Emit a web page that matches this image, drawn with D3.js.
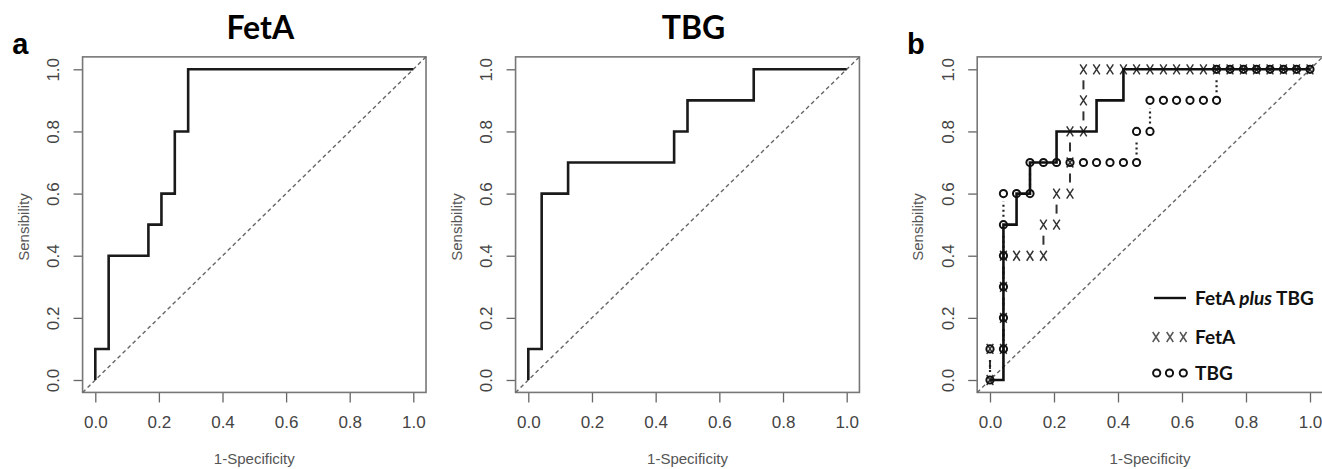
<!DOCTYPE html>
<html lang="en">
<head>
<meta charset="UTF-8">
<title>ROC curves</title>
<script src="https://cdn.jsdelivr.net/npm/d3@7"></script>
<style>
    body { margin: 0; background: #fff; }
    svg { display: block; }
    .tick-label { font-family: "Liberation Sans", Arial, sans-serif; font-size: 17px; fill: #444; }
    .axis-title { font-family: "Liberation Sans", Arial, sans-serif; font-size: 15px; fill: #555; }
    .panel-title { font-family: Lato, "Open Sans", sans-serif; font-weight: bold; font-size: 32px; fill: #000; }
    .panel-letter { font-family: "Liberation Sans", Arial, sans-serif; font-weight: bold; font-size: 29px; fill: #000; }
    .legend-text { font-family: Lato, "Open Sans", sans-serif; font-weight: bold; font-size: 19px; fill: #111; }
</style>
</head>
<body>
<script>
// ticks
const tickValues = [0, 0.2, 0.4, 0.6, 0.8, 1.0];
const tickLabels = ["0.0", "0.2", "0.4", "0.6", "0.8", "1.0"];

// panel a - FetA step curve corners
const fetaFpr = [0, 0, 0.042, 0.042, 0.167, 0.167, 0.208, 0.208, 0.25, 0.25, 0.292, 0.292, 1];
const fetaTpr = [0, 0.1, 0.1, 0.4, 0.4, 0.5, 0.5, 0.6, 0.6, 0.8, 0.8, 1.0, 1];

// panel a - TBG step curve corners
const tbgFpr = [0, 0, 0.042, 0.042, 0.125, 0.125, 0.458, 0.458, 0.5, 0.5, 0.708, 0.708, 1];
const tbgTpr = [0, 0.1, 0.1, 0.6, 0.6, 0.7, 0.7, 0.8, 0.8, 0.9, 0.9, 1.0, 1];

// panel b - combined model (solid)
const comboFpr = [0, 0.042, 0.042, 0.083, 0.083, 0.125, 0.125, 0.208, 0.208, 0.333, 0.333, 0.417, 0.417, 1];
const comboTpr = [0, 0, 0.5, 0.5, 0.6, 0.6, 0.7, 0.7, 0.8, 0.8, 0.9, 0.9, 1.0, 1];

// panel b - FetA threshold points (crosses)
const fetaPtFpr = [0, 0, 0.042, 0.042, 0.042, 0.042, 0.083, 0.125, 0.167, 0.167, 0.208, 0.208, 0.25, 0.25, 0.25, 0.292, 0.292, 0.292,
    0.333, 0.375, 0.417, 0.458, 0.5, 0.542, 0.583, 0.625, 0.667, 0.708, 0.75, 0.792, 0.833, 0.875, 0.917, 0.958, 1];
const fetaPtTpr = [0, 0.1, 0.1, 0.2, 0.3, 0.4, 0.4, 0.4, 0.4, 0.5, 0.5, 0.6, 0.6, 0.7, 0.8, 0.8, 0.9, 1.0,
    1, 1, 1, 1, 1, 1, 1, 1, 1, 1, 1, 1, 1, 1, 1, 1, 1];

// panel b - TBG threshold points (circles)
const tbgPtFpr = [0, 0, 0.042, 0.042, 0.042, 0.042, 0.042, 0.042, 0.083, 0.125, 0.125, 0.167, 0.208, 0.25, 0.292, 0.333, 0.375, 0.417,
    0.458, 0.458, 0.5, 0.5, 0.542, 0.583, 0.625, 0.667, 0.708, 0.708, 0.75, 0.792, 0.833, 0.875, 0.917, 0.958, 1];
const tbgPtTpr = [0, 0.1, 0.1, 0.2, 0.3, 0.4, 0.5, 0.6, 0.6, 0.6, 0.7, 0.7, 0.7, 0.7, 0.7, 0.7, 0.7, 0.7,
    0.7, 0.8, 0.8, 0.9, 0.9, 0.9, 0.9, 0.9, 0.9, 1.0, 1, 1, 1, 1, 1, 1, 1];

const legendLabels = ["FetA plus TBG", "FetA", "TBG"];

const W = 1322, H = 469;
const svg = d3.select("body").append("svg").attr("width", W).attr("height", H);

const zip = (xs, ys) => xs.map((x, i) => [x, ys[i]]);

function makePanel(px0, px1, title, letter) {
    const x = d3.scaleLinear().domain([0, 1]).range([px0, px1]);
    const y = d3.scaleLinear().domain([0, 1]).range([380, 69.3]);
    const g = svg.append("g");
    const left = x(-0.04), right = x(1.04), top = y(1.04), bottom = y(-0.04);

    // x axis ticks
    const xa = g.append("g").attr("transform", `translate(0,${bottom})`)
        .call(d3.axisBottom(x).tickValues(tickValues).tickSize(10).tickFormat((d, i) => tickLabels[i]));
    xa.select(".domain").remove();
    xa.selectAll("line").attr("stroke", "#666").attr("stroke-width", 1.3);
    xa.selectAll("text").attr("class", "tick-label").attr("dy", null).attr("y", 36).attr("font-size", null).attr("font-family", null).attr("fill", null);

    const ya = g.append("g").attr("transform", `translate(${left},0)`)
        .call(d3.axisLeft(y).tickValues(tickValues).tickSize(9).tickFormat((d, i) => tickLabels[i]));
    ya.select(".domain").remove();
    ya.selectAll("line").attr("stroke", "#666").attr("stroke-width", 1.3);
    ya.selectAll("text").attr("class", "tick-label").attr("x", null).attr("dy", null)
        .attr("font-size", null).attr("font-family", null).attr("fill", null)
        .attr("text-anchor", "middle")
        .attr("transform", `translate(${-(left - (px0 - 42))},0) rotate(-90)`)
        .attr("dy", "0.35em");

    // frame
    g.append("rect").attr("x", left).attr("y", top).attr("width", right - left).attr("height", bottom - top)
        .attr("fill", "none").attr("stroke", "#777").attr("stroke-width", 1.6);

    // diagonal reference
    g.append("line").attr("x1", x(-0.04)).attr("y1", y(-0.04)).attr("x2", x(1.04)).attr("y2", y(1.04))
        .attr("stroke", "#666").attr("stroke-width", 1.4).attr("stroke-dasharray", "4,3");

    g.append("text").attr("class", "axis-title").attr("text-anchor", "middle")
        .attr("x", (x(0) + x(1)) / 2).attr("y", 464).text("1-Specificity");
    g.append("text").attr("class", "axis-title").attr("text-anchor", "middle")
        .attr("transform", `translate(${px0 - 72},227) rotate(-90)`).attr("dy", "0.35em").text("Sensibility");

    if (title) g.append("text").attr("class", "panel-title").attr("text-anchor", "middle")
        .attr("x", (x(0) + x(1)) / 2 + 6).attr("y", 39).text(title);
    if (letter) g.append("text").attr("class", "panel-letter").attr("x", px0 - 83).attr("y", 54).text(letter);

    return { g, x, y };
}

const line = (x, y) => d3.line().x(d => x(d[0])).y(d => y(d[1]));

// R-style type="b" connecting segments with gaps around points
function gappedSegments(g, pts, x, y, gap, dash, width, color) {
    for (let i = 1; i < pts.length; i++) {
        const ax = x(pts[i - 1][0]), ay = y(pts[i - 1][1]);
        const bx = x(pts[i][0]), by = y(pts[i][1]);
        const len = Math.hypot(bx - ax, by - ay);
        if (len <= 2 * gap + 1) continue;
        const ux = (bx - ax) / len, uy = (by - ay) / len;
        g.append("line")
            .attr("x1", ax + ux * gap).attr("y1", ay + uy * gap)
            .attr("x2", bx - ux * gap).attr("y2", by - uy * gap)
            .attr("stroke", color).attr("stroke-width", width)
            .attr("stroke-dasharray", dash);
    }
}

function crossMark(g, cx, cy, color) {
    g.append("path").attr("d", `M${cx - 3.3},${cy - 5}L${cx + 3.3},${cy + 5}M${cx + 3.3},${cy - 5}L${cx - 3.3},${cy + 5}`)
        .attr("stroke", color).attr("stroke-width", 1.5).attr("fill", "none");
}
function circleMark(g, cx, cy) {
    g.append("circle").attr("cx", cx).attr("cy", cy).attr("r", 3.6)
        .attr("fill", "none").attr("stroke", "#111").attr("stroke-width", 2);
}

// panel a: FetA
const pA = makePanel(95.3, 413.3, "FetA", "a");
pA.g.append("path").datum(zip(fetaFpr, fetaTpr)).attr("d", line(pA.x, pA.y))
    .attr("fill", "none").attr("stroke", "#1a1a1a").attr("stroke-width", 2.6);

// panel a: TBG
const pT = makePanel(528.3, 846.7, "TBG", null);
pT.g.append("path").datum(zip(tbgFpr, tbgTpr)).attr("d", line(pT.x, pT.y))
    .attr("fill", "none").attr("stroke", "#1a1a1a").attr("stroke-width", 2.6);

// panel b: comparison
const pB = makePanel(990, 1310, null, "b");
const fetaPts = zip(fetaPtFpr, fetaPtTpr);
const tbgPts = zip(tbgPtFpr, tbgPtTpr);

gappedSegments(pB.g, fetaPts, pB.x, pB.y, 11, null, 2, "#333");
fetaPts.forEach(d => crossMark(pB.g, pB.x(d[0]), pB.y(d[1]), "#333"));
gappedSegments(pB.g, tbgPts, pB.x, pB.y, 8, "2,3", 2.2, "#222");
tbgPts.forEach(d => circleMark(pB.g, pB.x(d[0]), pB.y(d[1])));

pB.g.append("path").datum(zip(comboFpr, comboTpr)).attr("d", line(pB.x, pB.y))
    .attr("fill", "none").attr("stroke", "#111").attr("stroke-width", 2.6);

// legend
const lg = pB.g.append("g");
const legendY = [298, 337, 373];
lg.append("line").attr("x1", 1154).attr("x2", 1186).attr("y1", legendY[0]).attr("y2", legendY[0])
    .attr("stroke", "#111").attr("stroke-width", 2.4);
[1156, 1170, 1183.3].forEach(cx => crossMark(lg, cx, legendY[1], "#555"));
[1156.7, 1169.5, 1183.3].forEach(cx => circleMark(lg, cx, legendY[2]));

const t0 = lg.append("text").attr("class", "legend-text").attr("x", 1195).attr("y", legendY[0]).attr("dy", "0.35em");
const parts = legendLabels[0].split(" ");
t0.append("tspan").text(parts[0] + " ");
t0.append("tspan").attr("font-style", "italic").text(parts[1]);
t0.append("tspan").text(" " + parts[2]);
lg.append("text").attr("class", "legend-text").attr("x", 1195).attr("y", legendY[1]).attr("dy", "0.35em").text(legendLabels[1]);
lg.append("text").attr("class", "legend-text").attr("x", 1195).attr("y", legendY[2]).attr("dy", "0.35em").text(legendLabels[2]);
</script>
</body>
</html>
